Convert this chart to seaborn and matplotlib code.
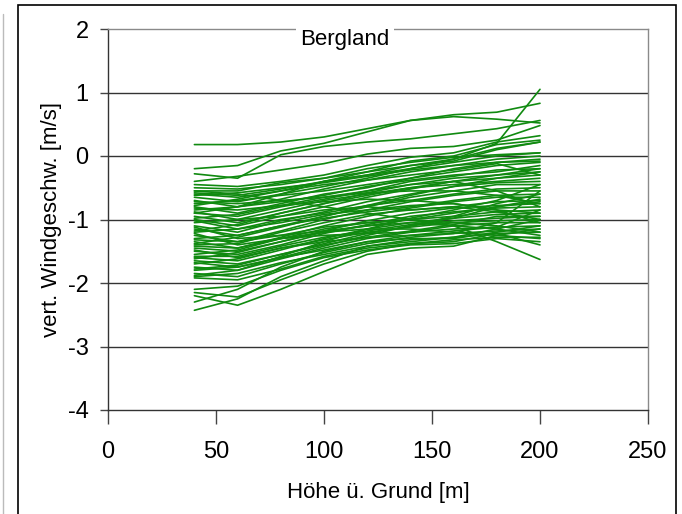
import pandas as pd
import matplotlib.pyplot as plt
import seaborn as sns
from matplotlib.patches import Rectangle
from matplotlib.lines import Line2D

# Hoehe ueber Grund [m]
hoehe = [40, 60, 80, 100, 120, 140, 160, 180, 200]

# vert. Windgeschwindigkeit [m/s], eine Liste pro Profil
profile = [
    [0.18, 0.18, 0.22, 0.30, 0.43, 0.56, 0.65, 0.69, 0.83],
    [-0.20, -0.15, 0.08, 0.20, 0.38, 0.56, 0.62, 0.58, 0.52],
    [-0.28, -0.35, 0.02, 0.15, 0.22, 0.27, 0.35, 0.43, 0.56],
    [-0.40, -0.32, -0.22, -0.12, 0.03, 0.12, 0.15, 0.25, 0.48],
    [-0.45, -0.48, -0.40, -0.30, -0.15, -0.02, 0.05, 0.22, 0.32],
    [-0.55, -0.55, -0.42, -0.35, -0.25, -0.08, 0.00, 0.18, 0.25],
    [-0.60, -0.65, -0.55, -0.40, -0.30, -0.15, -0.05, 0.12, 0.22],
    [-0.65, -0.72, -0.60, -0.48, -0.35, -0.20, -0.10, 0.00, 0.05],
    [-0.70, -0.80, -0.68, -0.52, -0.38, -0.25, -0.15, -0.05, 0.00],
    [-0.75, -0.70, -0.62, -0.55, -0.45, -0.35, -0.20, -0.10, -0.05],
    [-0.80, -0.90, -0.75, -0.60, -0.50, -0.35, -0.25, -0.15, -0.10],
    [-0.85, -0.80, -0.72, -0.62, -0.48, -0.38, -0.30, -0.25, -0.15],
    [-0.90, -0.95, -0.80, -0.68, -0.55, -0.40, -0.32, -0.22, -0.20],
    [-0.90, -0.80, -0.60, -0.40, -0.30, -0.20, -0.05, 0.20, 1.05],
    [-0.95, -1.05, -0.90, -0.75, -0.58, -0.45, -0.35, -0.30, -0.25],
    [-1.00, -1.10, -0.95, -0.80, -0.65, -0.52, -0.40, -0.35, -0.30],
    [-1.05, -1.00, -0.85, -0.70, -0.60, -0.50, -0.45, -0.40, -0.35],
    [-1.10, -1.20, -1.02, -0.88, -0.72, -0.60, -0.48, -0.42, -0.40],
    [-1.15, -1.25, -1.10, -0.95, -0.80, -0.65, -0.55, -0.45, -0.45],
    [-1.20, -1.15, -1.00, -0.90, -0.78, -0.70, -0.60, -0.52, -0.50],
    [-1.25, -1.35, -1.18, -1.00, -0.85, -0.72, -0.62, -0.55, -0.55],
    [-1.30, -1.25, -1.10, -0.98, -0.88, -0.80, -0.70, -0.62, -0.60],
    [-1.35, -1.45, -1.28, -1.10, -0.95, -0.82, -0.72, -0.65, -0.65],
    [-1.40, -1.38, -1.20, -1.05, -0.92, -0.85, -0.80, -0.72, -0.70],
    [-1.45, -1.50, -1.35, -1.18, -1.02, -0.90, -0.82, -0.78, -0.75],
    [-1.50, -1.55, -1.40, -1.22, -1.08, -0.95, -0.88, -0.82, -0.80],
    [-1.55, -1.48, -1.30, -1.15, -1.05, -1.00, -0.95, -0.88, -0.85],
    [-1.60, -1.65, -1.48, -1.30, -1.15, -1.05, -0.98, -0.92, -0.90],
    [-1.65, -1.70, -1.55, -1.38, -1.22, -1.10, -1.02, -0.98, -0.95],
    [-1.70, -1.62, -1.45, -1.32, -1.20, -1.12, -1.05, -1.02, -1.00],
    [-1.75, -1.80, -1.62, -1.45, -1.30, -1.20, -1.10, -1.05, -1.05],
    [-1.80, -1.75, -1.60, -1.48, -1.35, -1.25, -1.18, -1.12, -1.10],
    [-1.85, -1.90, -1.70, -1.52, -1.38, -1.28, -1.22, -1.18, -1.15],
    [-1.90, -1.85, -1.68, -1.55, -1.42, -1.32, -1.28, -1.22, -1.20],
    [-1.92, -1.95, -1.78, -1.58, -1.45, -1.38, -1.32, -1.28, -1.28],
    [-2.10, -2.05, -1.80, -1.60, -1.48, -1.40, -1.38, -1.30, -1.35],
    [-2.20, -2.35, -2.10, -1.82, -1.55, -1.45, -1.42, -1.25, -1.15],
    [-2.30, -2.10, -1.75, -1.50, -1.35, -1.30, -1.30, -1.20, -1.10],
    [-2.43, -2.25, -1.90, -1.65, -1.42, -1.35, -1.28, -1.15, -1.00],
    [-2.15, -2.22, -1.95, -1.70, -1.50, -1.38, -1.35, -1.22, -1.40],
    [-0.55, -0.60, -0.70, -0.80, -0.90, -1.00, -1.10, -1.35, -1.63],
    [-0.50, -0.52, -0.45, -0.35, -0.20, -0.10, -0.02, 0.02, 0.05],
    [-0.62, -0.58, -0.50, -0.42, -0.32, -0.22, -0.15, -0.10, -0.08],
    [-0.72, -0.75, -0.70, -0.65, -0.55, -0.45, -0.40, -0.55, -0.80],
    [-0.82, -0.85, -0.78, -0.72, -0.68, -0.70, -0.75, -0.85, -0.90],
    [-0.88, -1.00, -0.95, -0.85, -0.80, -0.85, -0.80, -0.88, -1.00],
    [-1.02, -1.15, -1.05, -0.92, -0.85, -0.78, -0.75, -0.85, -1.05],
    [-1.12, -1.30, -1.25, -1.12, -1.05, -1.00, -1.05, -1.10, -1.20],
    [-1.22, -1.40, -1.30, -1.20, -1.15, -1.15, -1.20, -1.25, -1.30],
    [-1.32, -1.35, -1.25, -1.18, -1.10, -1.05, -1.10, -1.15, -1.25],
    [-1.42, -1.45, -1.30, -1.25, -1.22, -1.20, -1.15, -1.12, -0.85],
    [-1.48, -1.60, -1.45, -1.35, -1.28, -1.25, -1.22, -1.05, -0.55],
    [-1.58, -1.58, -1.42, -1.28, -1.18, -1.08, -0.98, -0.80, -0.72],
    [-1.68, -1.75, -1.60, -1.42, -1.25, -1.10, -0.95, -0.75, -0.60],
    [-1.78, -1.72, -1.55, -1.40, -1.28, -1.18, -1.08, -0.95, -0.95],
    [-1.88, -1.80, -1.58, -1.35, -1.15, -0.98, -0.85, -0.70, -0.45],
    [-0.78, -0.68, -0.55, -0.45, -0.38, -0.30, -0.22, -0.12, -0.30],
    [-1.18, -1.08, -0.90, -0.75, -0.62, -0.50, -0.40, -0.30, -0.20],
    [-1.38, -1.28, -1.12, -0.95, -0.78, -0.62, -0.48, -0.35, -0.25],
    [-0.58, -0.62, -0.52, -0.40, -0.25, -0.15, -0.08, 0.10, 0.22],
    [-1.62, -1.52, -1.35, -1.20, -1.10, -1.00, -0.90, -0.80, -0.68],
    [-0.98, -0.92, -0.78, -0.65, -0.58, -0.55, -0.55, -0.62, -0.75],
]

x_ticks = [0, 50, 100, 150, 200, 250]
y_ticks = [-4, -3, -2, -1, 0, 1, 2]

# long form fuer seaborn
zeilen = []
for i, werte in enumerate(profile):
    for h, w in zip(hoehe, werte):
        zeilen.append({"profil": i, "hoehe": h, "w": w})
veri = pd.DataFrame(zeilen)

sns.set_style("white")
plt.rcParams["font.family"] = ["Liberation Sans", "DejaVu Sans"]
plt.rcParams["axes.unicode_minus"] = False
plt.rcParams["text.color"] = "black"
plt.rcParams["axes.labelcolor"] = "black"
plt.rcParams["xtick.color"] = "black"
plt.rcParams["ytick.color"] = "black"

fig = plt.figure(figsize=(6.82, 5.14), dpi=100)
ax = fig.add_axes([108 / 682, 1 - 410 / 514, 540 / 682, 381 / 514])

# gitternetz
for y in y_ticks[1:-1]:
    ax.axhline(y, color="#333333", lw=1.0, zorder=0)

sns.lineplot(data=veri, x="hoehe", y="w", units="profil", estimator=None,
             color="#108a10", lw=1.2, ax=ax, legend=False)

ax.set_xlim(0, 250)
ax.set_ylim(-4, 2)
ax.set_xticks(x_ticks)
ax.set_yticks(y_ticks)
ax.tick_params(axis="x", direction="out", length=10, width=1, labelsize=17, pad=12,
               bottom=True, color="#444444", labelcolor="black")
ax.tick_params(axis="y", direction="out", length=6, width=1, labelsize=17, pad=8,
               left=True, color="#444444", labelcolor="black")

for s in ["top", "right"]:
    ax.spines[s].set_color("#8a8a8a")
for s in ["left", "bottom"]:
    ax.spines[s].set_color("#333333")
for s in ax.spines.values():
    s.set_linewidth(1.0)

ax.set_xlabel("Höhe ü. Grund [m]", fontsize=16, labelpad=14, color="black")
ax.set_ylabel("vert. Windgeschw. [m/s]", fontsize=16, labelpad=4, color="black")

ax.text(0.439, 0.972, "Bergland", transform=ax.transAxes, ha="center", va="center",
        fontsize=16, zorder=5, color="black",
        bbox=dict(facecolor="white", edgecolor="none", pad=3))

# rahmen um das diagramm
fig.patches.append(Rectangle((18 / 682, -0.02), 658 / 682, 0.02 + 509 / 514, transform=fig.transFigure,
                             fill=False, edgecolor="black", lw=1.2))
fig.lines.append(Line2D([3 / 682, 3 / 682], [0, 500 / 514], transform=fig.transFigure,
                        color="#bbbbbb", lw=1))

plt.savefig("out.png", dpi=100)
